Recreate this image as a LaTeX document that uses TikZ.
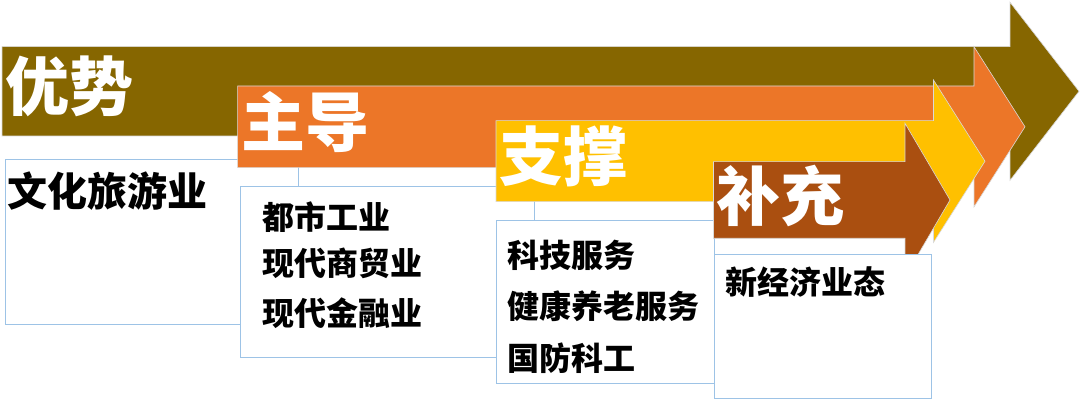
\documentclass[tikz,border=0pt]{standalone}
\usepackage{fontspec}
\newfontfamily\cjk{Noto Sans CJK SC}
\definecolor{colA}{RGB}{134,102,0}
\definecolor{colB}{RGB}{236,118,40}
\definecolor{colC}{RGB}{255,192,0}
\definecolor{colD}{RGB}{170,79,16}
\definecolor{boxline}{RGB}{157,195,230}
\tikzset{
  arr/.style={draw=white!85!black, line width=0.6pt},
  tbox/.style={draw=boxline, line width=0.8pt, fill=white, inner sep=0pt, anchor=north west},
  head/.style={anchor=base west, inner sep=0pt, text=white, font=\cjk\bfseries\fontsize{64}{64}\selectfont},
  item/.style={anchor=base west, inner sep=0pt, text=black, font=\cjk\bfseries\fontsize{32}{32}\selectfont},
  itembig/.style={anchor=base west, inner sep=0pt, text=black, font=\cjk\bfseries\fontsize{40}{40}\selectfont}
}
\begin{document}
\begin{tikzpicture}[x=1pt,y=-1pt]
\useasboundingbox[fill=white] (0,0) rectangle (1080,403);
% arrow 1
\filldraw[arr, fill=colA] (2,46.7) -- (1010,46.7) -- (1010,2.3) -- (1079,91.3) -- (1010,180.3) -- (1010,136) -- (2,136) -- cycle;
\node[head] (h1) at (5,110.5) {优势};
\node[tbox, minimum width=293.5pt, minimum height=165pt] (b1) at (4.5,159) {};
\node[itembig] (t1) at (7.4,206.2) {文化旅游业};
% arrow 2
\filldraw[arr, fill=colB] (237.6,86) -- (974,86) -- (974,46.7) -- (1025,126.8) -- (974,206.9) -- (974,167.7) -- (237.6,167.7) -- cycle;
\node[head] (h2) at (240.8,146.8) {主导};
\node[tbox, minimum width=294.3pt, minimum height=171pt] (b2) at (240,185.7) {};
\node[item] (t21) at (262.4,229.7) {都市工业};
\node[item] (t22) at (262.4,275.5) {现代商贸业};
\node[item] (t23) at (262.4,325.5) {现代金融业};
% arrow 3
\filldraw[arr, fill=colC] (496,120.7) -- (933.5,120.7) -- (933.5,80) -- (985,161.2) -- (933.5,242.4) -- (933.5,201.7) -- (496,201.7) -- cycle;
\node[head] (h3) at (499.7,180.1) {支撑};
\node[tbox, minimum width=218.3pt, minimum height=163.3pt] (b3) at (496,220) {};
\node[item] (t31) at (507.3,267.2) {科技服务};
\node[item] (t32) at (507.3,318.2) {健康养老服务};
\node[item] (t33) at (507.3,370.2) {国防科工};
% arrow 4
\filldraw[arr, fill=colD] (713.5,161.7) -- (905,161.7) -- (905,123.3) -- (950,200) -- (905,276.7) -- (905,238.3) -- (713.5,238.3) -- cycle;
\node[head] (h4) at (716.3,220.1) {补充};
\node[tbox, minimum width=217pt, minimum height=144pt] (b4) at (714,254.3) {};
\node[item] (t41) at (725.7,294.7) {新经济业态};
\end{tikzpicture}
\end{document}
